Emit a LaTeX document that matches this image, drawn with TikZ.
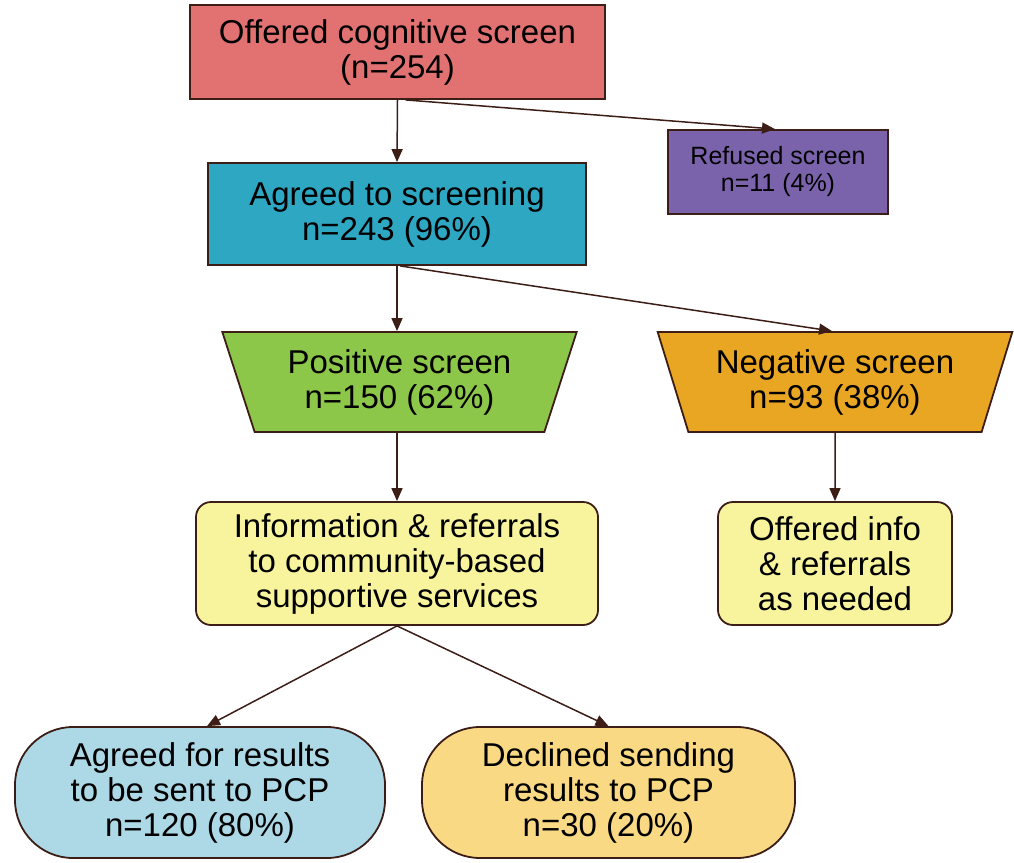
\documentclass[tikz,border=0pt]{standalone}
\usepackage{fontspec}
\setmainfont{Liberation Sans}
\usetikzlibrary{arrows.meta,shapes.geometric}
\definecolor{edge}{HTML}{3C1E17}
\definecolor{cred}{HTML}{E27272}
\definecolor{cteal}{HTML}{2EA7C3}
\definecolor{cpurple}{HTML}{7B63AC}
\definecolor{cgreen}{HTML}{8DC74A}
\definecolor{corange}{HTML}{E8A623}
\definecolor{cyellow}{HTML}{F8F49E}
\definecolor{cblue}{HTML}{ADD8E6}
\definecolor{cgold}{HTML}{F9D983}
\begin{document}
\begin{tikzpicture}[x=1pt,y=-1pt,
  base/.style={draw=edge,line width=1.8pt,align=center,inner sep=0pt,
    font=\fontsize{33pt}{35pt}\selectfont},
  sqbox/.style={base,rectangle},
  rbox/.style={base,rectangle,rounded corners=15pt},
  pill/.style={base,rectangle,rounded corners=58pt},
  trap/.style={base,trapezium,shape border rotate=180,trapezium angle=69.2,
    trapezium stretches=true},
  conn/.style={draw=edge,line width=1.5pt,-{Triangle[length=13pt,width=11pt]}}]
\useasboundingbox (0,0) rectangle (1014,862);
\node[sqbox,fill=cred,minimum width=415pt,minimum height=94pt] (off) at (397.5,52) {Offered cognitive screen\\(n=254)};
\node[sqbox,fill=cteal,minimum width=378pt,minimum height=102pt] (agr) at (397,214) {Agreed to screening\\n=243 (96\%)};
\node[sqbox,fill=cpurple,minimum width=220pt,minimum height=84pt,font=\fontsize{25pt}{27pt}\selectfont] (ref) at (778,172) {Refused screen\\n=11 (4\%)};
\node[trap,fill=cgreen,minimum width=355pt,minimum height=100pt] (pos) at (399.5,382) {Positive screen\\n=150 (62\%)};
\node[trap,fill=corange,minimum width=355pt,minimum height=100pt] (neg) at (835,382) {Negative screen\\n=93 (38\%)};
\node[rbox,fill=cyellow,minimum width=402pt,minimum height=123pt] (inf) at (397,563.5) {Information \& referrals\\to community-based\\supportive services};
\node[rbox,fill=cyellow,minimum width=234pt,minimum height=123pt] (oin) at (835,563.5) {Offered info\\\& referrals\\as needed};
\node[pill,fill=cblue,minimum width=370pt,minimum height=131pt] (ares) at (200,792.5) {Agreed for results\\to be sent to PCP\\n=120 (80\%)};
\node[pill,fill=cgold,minimum width=373pt,minimum height=131pt] (dec) at (608.5,792.5) {Declined sending\\results to PCP\\n=30 (20\%)};
\draw[conn] (off.south) -- (agr.north);
\draw[conn] ([xshift=8pt]off.south) -- ([xshift=-3pt]ref.north);
\draw[conn] (agr.south) -- (agr.south |- pos.north);
\draw[conn] ([xshift=3pt]agr.south) -- ([xshift=-3pt]neg.north);
\draw[conn] (pos.south -| inf.north) -- (inf.north);
\draw[conn] (neg.south) -- (oin.north);
\draw[conn] (inf.south) -- ([xshift=7pt]ares.north);
\draw[conn] (inf.south) -- (dec.north);
\end{tikzpicture}
\end{document}
